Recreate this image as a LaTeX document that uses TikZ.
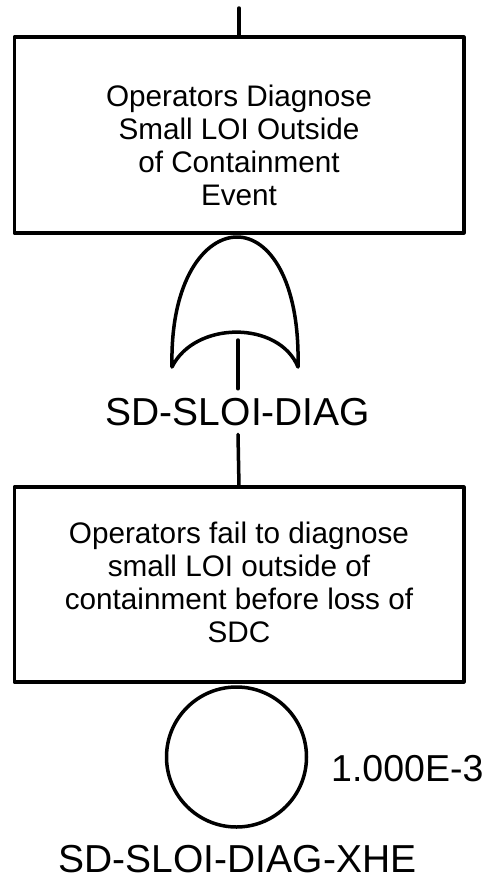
\documentclass[tikz,border=0pt]{standalone}
\usepackage{fontspec}
\setmainfont{Liberation Sans}
\tikzset{
  ln/.style={line width=3.5pt, line join=round, line cap=round},
  evbox/.style={draw, line width=3.5pt, line join=round, minimum width=449.5pt, inner sep=0pt, outer sep=0pt},
  boxtext/.style={align=center, inner sep=0pt, font=\fontsize{29.7}{33}\selectfont},
  idlabel/.style={inner sep=0pt, outer sep=9pt, font=\fontsize{39}{44}\selectfont},
  problabel/.style={inner sep=0pt, font=\fontsize{37.5}{42}\selectfont},
  basic/.style={draw, circle, line width=3.5pt, minimum size=140pt, inner sep=0pt, outer sep=0pt}
}
\begin{document}
\begin{tikzpicture}[x=1pt,y=-1pt]
\useasboundingbox (0,0) rectangle (491,879);
% top event box
\node[evbox, minimum height=196pt] (b1) at (239,135) {};
\node[boxtext] (t1) at (239,145) {Operators Diagnose\\Small LOI Outside\\of Containment\\Event};
\coordinate (topend) at (239,8);
\draw[ln] (topend) -- (b1.north);
% OR gate
\coordinate (gtop) at (237,237);
\coordinate (gl) at (172,367);
\coordinate (gr) at (298,367);
\coordinate (gin) at (238,340);
\draw[ln] (gtop) .. controls (205,237) and (170,280) .. (gl)
  .. controls (195,320.5) and (279,320.5) .. (gr)
  .. controls (300,280) and (269,237) .. (gtop);
\node[idlabel, anchor=base] (g1lab) at (238,425) {SD-SLOI-DIAG};
\draw[ln] (gin) -- (g1lab.north);
% basic event box
\node[evbox, minimum height=195pt] (b2) at (239,584.5) {};
\node[boxtext] (t2) at (239,582) {Operators fail to diagnose\\small LOI outside of\\containment before loss of\\SDC};
\draw[ln] (g1lab.south) -- (b2.north);
% basic event circle
\node[basic] (c) at (236.5,757) {};
\node[problabel, anchor=base west] (p) at (331,781.5) {1.000E-3};
\node[idlabel, anchor=base, outer sep=0pt] (clab) at (237.5,872.5) {SD-SLOI-DIAG-XHE};
\end{tikzpicture}
\end{document}
